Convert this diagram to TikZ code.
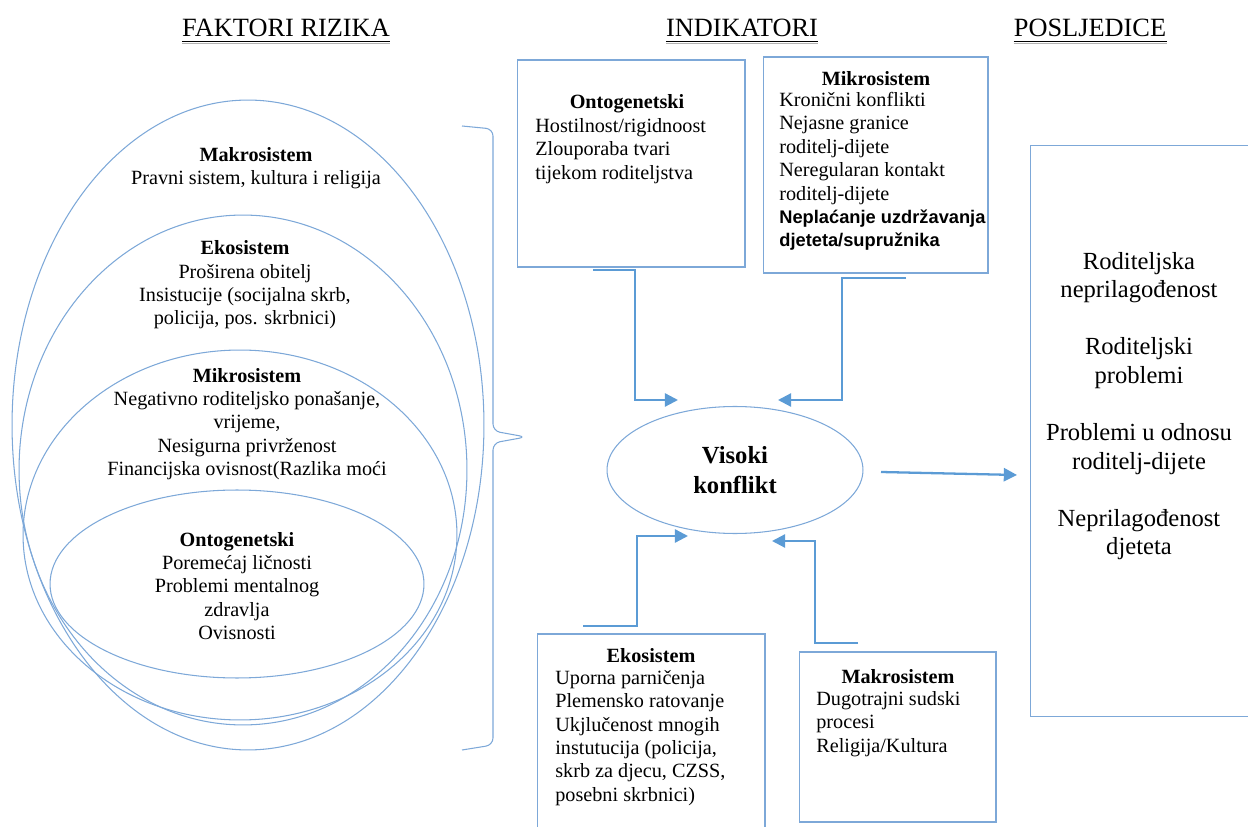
\documentclass[tikz,border=0pt]{standalone}
\usepackage{fontspec}
\setmainfont{Liberation Serif}
\setsansfont{Liberation Sans}
\usetikzlibrary{shapes.geometric,arrows.meta,positioning}

\definecolor{ringblue}{RGB}{125,168,216}
\definecolor{arrowblue}{RGB}{91,155,213}

\newcommand{\sansbold}{\sffamily\bfseries\fontsize{10.4}{12.6}\selectfont}

\tikzset{
  ring/.style={ellipse, draw=ringblue, line width=0.6pt, inner sep=0pt},
  box/.style={rectangle, draw=ringblue, line width=0.6pt, inner sep=0pt},
  link/.style={draw=arrowblue, line width=1.3pt, -{Triangle[length=7.5pt,width=7.5pt]}},
  txt/.style={font=\fontsize{11.5}{13.3}\selectfont, inner sep=0pt},
  head/.style={font=\fontsize{11.5}{13.3}\selectfont\bfseries, inner sep=0pt},
  title/.style={font=\fontsize{15}{18}\selectfont, inner xsep=0pt, inner ysep=2.5pt}
}

\begin{document}
\begin{tikzpicture}[x=0.02cm,y=-0.02cm]
    \useasboundingbox (0,0) rectangle (1248,827);
    \clip (0,0) rectangle (1248,827);

    % Titles
    \node[title] (faktori) at (286,28) {FAKTORI RIZIKA};
    \node[title] (indikatori) at (742,28) {INDIKATORI};
    \node[title] (posljedice) at (1090,28) {POSLJEDICE};
    \foreach \t in {faktori,indikatori,posljedice} {
        \draw[line width=0.8pt] (\t.south west) -- (\t.south east);
        \draw[line width=0.6pt, gray!60] ([yshift=-1pt]\t.south west) -- ([yshift=-1pt]\t.south east);
    }

    % Nested ellipses (risk factors)
    \node[ring, minimum width=9.44cm, minimum height=13cm] (makro) at (248,425) {};
    \node[ring, minimum width=8.96cm, minimum height=10.2cm] (eko) at (243,470) {};
    \node[ring, minimum width=8.68cm, minimum height=7.4cm] (mikro) at (240,535) {};
    \node[ring, minimum width=7.48cm, minimum height=3.76cm] (onto) at (237,584) {};

    \node[txt, align=center] (makrotxt) at (256,168)
        {\textbf{Makrosistem}\\Pravni sistem, kultura i religija};
    \node[txt, align=center] (ekotxt) at (245,285)
        {\textbf{Ekosistem}\\Proširena obitelj\\Insistucije (socijalna skrb,\\policija, pos. skrbnici)};
    \node[txt, align=center] (mikrotxt) at (247,424)
        {\textbf{Mikrosistem}\\Negativno roditeljsko ponašanje,\\vrijeme,\\Nesigurna privrženost\\Financijska ovisnost(Razlika moći};
    \node[txt, align=center] (ontotxt) at (237,586)
        {\textbf{Ontogenetski}\\Poremećaj ličnosti\\Problemi mentalnog\\zdravlja\\Ovisnosti};

    % Brace
    \draw[ringblue, line width=0.6pt, rounded corners=4pt]
        (462,126) -- (493,129) -- (493,431) -- (526,437) -- (493,443) -- (493,745) -- (462,750);

    % Indicator boxes
    \node[box, minimum width=4.56cm, minimum height=4.14cm] (ontobox) at (631,163.5) {};
    \node[head] (ontohead) at (627,104) {Ontogenetski};
    \node[txt, align=left, anchor=north west] (ontobody) at (535,118)
        {Hostilnost/rigidnoost\\Zlouporaba tvari\\tijekom roditeljstva};

    \node[box, minimum width=4.5cm, minimum height=4.32cm] (mikrobox) at (875.5,165) {};
    \node[head] (mikrohead) at (876,79) {Mikrosistem};
    \node[txt, align=left, anchor=north west] (mikrobody) at (779,92)
        {Kronični konflikti\\Nejasne granice\\roditelj-dijete\\Neregularan kontakt\\roditelj-dijete\\
         {\sansbold Neplaćanje uzdržavanja}\\{\sansbold djeteta/supružnika}};

    \node[box, minimum width=4.56cm, minimum height=4.12cm] (ekobox) at (651,737) {};
    \node[head] (ekohead) at (651,656) {Ekosistem};
    \node[txt, align=left, anchor=north west] (ekobody) at (555,670)
        {Uporna parničenja\\Plemensko ratovanje\\Ukjlučenost mnogih\\instutucija (policija,\\skrb za djecu, CZSS,\\posebni skrbnici)};

    \node[box, minimum width=3.94cm, minimum height=3.4cm] (makrobox) at (897.5,737) {};
    \node[head] (makrohead) at (898,677) {Makrosistem};
    \node[txt, align=left, anchor=north west] (makrobody) at (816,691)
        {Dugotrajni sudski\\procesi\\Religija/Kultura};

    % Central ellipse
    \node[ring, minimum width=5.12cm, minimum height=2.54cm, align=center,
          font=\fontsize{14}{17}\selectfont\bfseries] (visoki) at (735,470) {Visoki\\konflikt};

    % Consequences box
    \node[box, minimum width=4.64cm, minimum height=11.44cm] (poslbox) at (1146,431) {};
    \node[align=center, inner sep=0pt, font=\fontsize{14}{16.2}\selectfont] (posltxt) at (1139,406)
        {Roditeljska\\neprilagođenost\\[16.4pt]Roditeljski\\problemi\\[16.4pt]Problemi u odnosu\\roditelj-dijete\\[16.4pt]Neprilagođenost\\djeteta};

    % Arrows
    \coordinate (ontoout) at (593,270);
    \coordinate (ontoin) at (678,400);
    \coordinate (mikroout) at (906,278);
    \coordinate (mikroin) at (778,400);
    \coordinate (ekoout) at (583,626);
    \coordinate (ekoin) at (688,536);
    \coordinate (makroout) at (858,643);
    \coordinate (makroin) at (772,541);
    \coordinate (visokiout) at (881,472);
    \coordinate (poslin) at (1017,475);

    \draw[link] (ontoout) -| (635,400) -- (ontoin);
    \draw[link] (mikroout) -| (842,400) -- (mikroin);
    \draw[link] (ekoout) -| (637,536) -- (ekoin);
    \draw[link] (makroout) -| (815,541) -- (makroin);
    \draw[link] (visokiout) -- (poslin);
\end{tikzpicture}
\end{document}
